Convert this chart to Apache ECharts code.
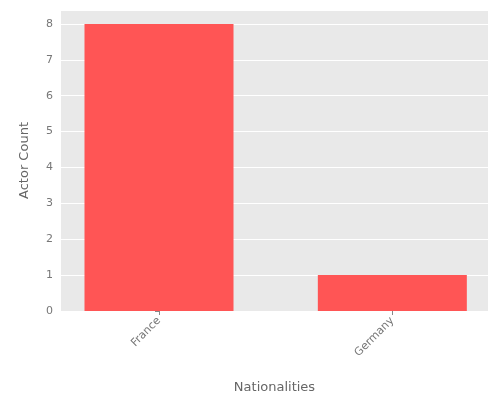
<!DOCTYPE html>
<html><head><meta charset="utf-8">
<script src="https://cdn.jsdelivr.net/npm/echarts@6/dist/echarts.min.js"></script>
<style>html,body{margin:0;padding:0;background:#fff}#c{width:500px;height:400px}</style>
</head><body><div id="c"></div>
<script>
const categories = ['France', 'Germany'];
const actorCounts = [8, 1];
const yTicks = [0, 1, 2, 3, 4, 5, 6, 7, 8];

const chart = echarts.init(document.getElementById('c'));
chart.setOption({
  animation: false,
  grid: { left: 61, right: 12, top: 10, bottom: 89, backgroundColor: '#e9e9e9', show: true, borderWidth: 0 },
  xAxis: {
    type: 'value', min: -0.42, max: 1.41,
    name: 'Nationalities', nameLocation: 'middle', nameGap: 70,
    nameTextStyle: { color: '#666', fontSize: 13, fontFamily: 'DejaVu Sans' },
    splitLine: { show: false },
    axisLine: { show: false },
    axisTick: { show: true, customValues: categories.map((c, i) => i), lineStyle: { color: '#888' }, length: 4 },
    axisLabel: { customValues: categories.map((c, i) => i), formatter: v => categories[Math.round(v)], rotate: 45, color: '#777', fontSize: 11, fontFamily: 'DejaVu Sans', margin: 8 }
  },
  yAxis: {
    type: 'value', min: 0, max: 8.39, interval: 1,
    name: 'Actor Count', nameLocation: 'middle', nameGap: 30,
    nameTextStyle: { color: '#666', fontSize: 13, fontFamily: 'DejaVu Sans' },
    splitLine: { lineStyle: { color: '#fff', width: 1 } },
    axisLine: { show: false },
    axisTick: { show: true, lineStyle: { color: '#888' }, length: 4 },
    axisLabel: { color: '#777', fontSize: 11, fontFamily: 'DejaVu Sans', showMaxLabel: false, formatter: v => yTicks.includes(v) ? String(v) : '' }
  },
  series: [{
    type: 'bar', barWidth: 149,
    itemStyle: { color: '#ff5555' },
    data: actorCounts.map((v, i) => [i, v])
  }]
});
</script></body></html>
